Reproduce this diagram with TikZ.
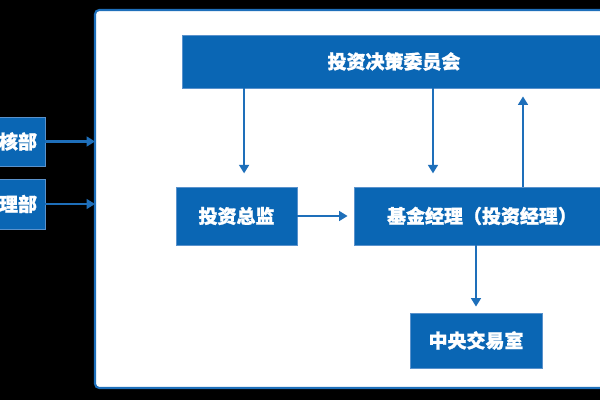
\documentclass[tikz,border=0pt]{standalone}
\usepackage{fontspec}
\newfontfamily\cjk[FakeBold=1.2]{Noto Sans CJK SC}
\usetikzlibrary{arrows.meta}
\definecolor{boxblue}{HTML}{0A66B4}
\definecolor{edgeblue}{HTML}{5A92CC}
\definecolor{lineblue}{HTML}{1E6FBA}
\begin{document}
\begin{tikzpicture}[x=0.025cm, y=-0.025cm,
    unit/.style={draw=edgeblue, fill=boxblue, line width=0.6pt, text=white,
      font=\cjk\bfseries\fontsize{13.5}{16}\selectfont, inner sep=0pt},
    arr/.style={-{Triangle[width=7pt,length=6pt]}, lineblue, line width=1.3pt, shorten >=0.15cm},
  ]
    \useasboundingbox[fill=black] (0,0) rectangle (600,400);
    \clip (0,0) rectangle (600,400);

    % Frame
    \draw[lineblue, line width=1.5pt, fill=white, rounded corners=3pt] (95,10) rectangle (640,388);
    \coordinate (fl) at (95,0);

    % Units
    \node[unit, minimum width=10.6cm, minimum height=1.325cm] (cmte)  at (394,61.5) {投资决策委员会};
    \node[unit, minimum width=3.025cm, minimum height=1.45cm]  (cio)   at (236.5,216) {投资总监};
    \node[unit, minimum width=6.4cm,  minimum height=1.45cm]   (fm)    at (482,216) {基金经理（投资经理）};
    \node[unit, minimum width=3.3cm,  minimum height=1.375cm]  (trade) at (476,340.5) {中央交易室};
    \node[unit, minimum width=1.35cm, minimum height=1.225cm]  (audit) at (18,141.5) {核部};
    \node[unit, minimum width=1.35cm, minimum height=1.25cm]   (risk)  at (18,204) {理部};

    % Arrows
    \draw[arr, line width=2pt, shorten >=0pt] (audit.east) -- (audit.east -| fl);
    \draw[arr, line width=2pt, shorten >=0pt] (risk.east) -- (risk.east -| fl);
    \draw[arr, shorten >=0.33cm] ([xshift=0.19cm]cio.north |- cmte.south) -- ([xshift=0.19cm]cio.north);
    \draw[arr, shorten >=0.33cm] ([xshift=-1.225cm]fm.north |- cmte.south) -- ([xshift=-1.225cm]fm.north);
    \draw[arr, shorten >=0.2cm] ([xshift=1.025cm]fm.north) -- ([xshift=1.025cm]fm.north |- cmte.south);
    \draw[arr] (cio.east) -- (fm.west);
    \draw[arr] (trade.north |- fm.south) -- (trade.north);
\end{tikzpicture}
\end{document}
